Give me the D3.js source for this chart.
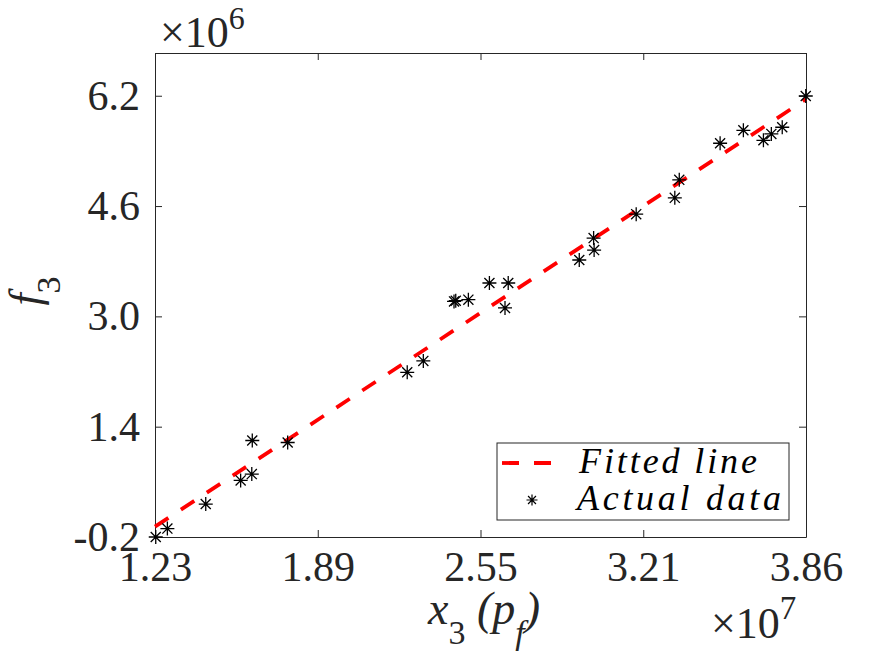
<!DOCTYPE html>
<html>
<head>
<meta charset="utf-8">
<script src="https://cdn.jsdelivr.net/npm/d3@7"></script>
<style>
  body { margin: 0; background: #fff; }
  svg { display: block; }
</style>
</head>
<body>
<div id="chart"></div>
<script>
// Measured data (x in units of 1e7, y in units of 1e6)
const xData = [1.233, 1.280, 1.435, 1.576, 1.621, 1.623, 1.766, 2.249, 2.314,
  2.438, 2.445, 2.496, 2.581, 2.644, 2.657, 2.944, 3.002, 3.004, 3.174,
  3.330, 3.348, 3.513, 3.607, 3.688, 3.720, 3.764, 3.859];
const yData = [-0.200, -0.078, 0.278, 0.621, 0.712, 1.200, 1.171, 2.189, 2.354,
  3.217, 3.227, 3.242, 3.484, 3.122, 3.484, 3.818, 4.135, 3.961, 4.483,
  4.719, 4.980, 5.511, 5.699, 5.554, 5.646, 5.743, 6.196];

// Fitted line end points
const fitX = [1.23, 3.86];
const fitY = [-0.05, 6.15];

// Ticks
const xTicks = [1.23, 1.8875, 2.545, 3.2025, 3.86];
const xTickLabels = ["1.23", "1.89", "2.55", "3.21", "3.86"];
const yTicks = [-0.2, 1.4, 3.0, 4.6, 6.2];
const yTickLabels = ["-0.2", "1.4", "3.0", "4.6", "6.2"];

const xDomain = [1.23, 3.86];
const yDomain = [-0.2, 6.82];

const WIDTH = 891;
const HEIGHT = 656;
const LEFT = 155, RIGHT = 806, TOP = 53, BOTTOM = 537;
const INK = "#262626";
const FONT = "'Liberation Serif', 'Times New Roman', serif";

const svg = d3.select("#chart")
  .append("svg")
  .attr("width", WIDTH)
  .attr("height", HEIGHT);

const xScale = d3.scaleLinear().domain(xDomain).range([LEFT, RIGHT]);
const yScale = d3.scaleLinear().domain(yDomain).range([BOTTOM, TOP]);

// Asterisk marker like MATLAB '*'
function asterisk(r) {
  const a = r * 0.72;
  return `M0,${-r}V${r}M${-r},0H${r}M${-a},${-a}L${a},${a}M${-a},${a}L${a},${-a}`;
}

// Axes (ticks inward on all four sides)
function styleAxis(g) {
  g.selectAll("path.domain").attr("stroke", INK).attr("stroke-width", 1);
  g.selectAll(".tick line").attr("stroke", INK).attr("stroke-width", 1);
  g.selectAll(".tick text")
    .attr("fill", INK)
    .style("font-family", FONT)
    .style("font-size", "42px");
}

svg.append("g")
  .attr("transform", `translate(0,${BOTTOM})`)
  .call(d3.axisBottom(xScale).tickValues(xTicks).tickSize(-7).tickSizeOuter(0)
    .tickPadding(14).tickFormat((d, i) => xTickLabels[i]))
  .call(styleAxis);

svg.append("g")
  .attr("transform", `translate(0,${TOP})`)
  .call(d3.axisTop(xScale).tickValues(xTicks).tickSize(-7).tickSizeOuter(0)
    .tickFormat(""))
  .call(styleAxis);

svg.append("g")
  .attr("transform", `translate(${LEFT},0)`)
  .call(d3.axisLeft(yScale).tickValues(yTicks).tickSize(-7).tickSizeOuter(0)
    .tickPadding(15).tickFormat((d, i) => yTickLabels[i]))
  .call(styleAxis);

svg.append("g")
  .attr("transform", `translate(${RIGHT},0)`)
  .call(d3.axisRight(yScale).tickValues(yTicks).tickSize(-7).tickSizeOuter(0)
    .tickFormat(""))
  .call(styleAxis);

// Fitted line
const line = d3.line()
  .x((d) => xScale(d[0]))
  .y((d) => yScale(d[1]));

svg.append("path")
  .datum(fitX.map((x, i) => [x, fitY[i]]))
  .attr("d", line)
  .attr("fill", "none")
  .attr("stroke", "#ff0000")
  .attr("stroke-width", 3.8)
  .attr("stroke-dasharray", "16,15");

// Actual data
svg.selectAll("path.point")
  .data(xData.map((x, i) => [x, yData[i]]))
  .enter()
  .append("path")
  .attr("class", "point")
  .attr("transform", (d) => `translate(${xScale(d[0])},${yScale(d[1])})`)
  .attr("d", asterisk(7))
  .attr("fill", "none")
  .attr("stroke", "#000")
  .attr("stroke-width", 1.3);

// Exponent labels
const exp6 = svg.append("text")
  .attr("x", 160).attr("y", 47)
  .attr("fill", INK)
  .style("font-family", FONT)
  .style("font-size", "44px");
exp6.append("tspan").text("\u00d710");
exp6.append("tspan").attr("dy", -18).style("font-size", "32px").text("6");

const exp7 = svg.append("text")
  .attr("x", 711).attr("y", 638)
  .attr("fill", INK)
  .style("font-family", FONT)
  .style("font-size", "44px");
exp7.append("tspan").text("\u00d710");
exp7.append("tspan").attr("dy", -19).style("font-size", "33px").text("7");

// Axis labels
const xLabel = svg.append("text")
  .attr("x", 484).attr("y", 624)
  .attr("text-anchor", "middle")
  .attr("fill", INK)
  .style("font-family", FONT)
  .style("font-size", "46px");
xLabel.append("tspan").style("font-style", "italic").text("x");
xLabel.append("tspan").attr("dy", 20).style("font-size", "34px").text("3");
xLabel.append("tspan").attr("dy", -20).style("font-style", "italic").text(" (p");
xLabel.append("tspan").attr("dy", 20).style("font-size", "34px")
  .style("font-style", "italic").text("f");
xLabel.append("tspan").attr("dy", -20).style("font-style", "italic").text(")");

const yLabel = svg.append("text")
  .attr("transform", "translate(40,291) rotate(-90)")
  .attr("text-anchor", "middle")
  .attr("fill", INK)
  .style("font-family", FONT)
  .style("font-size", "44px");
yLabel.append("tspan").style("font-style", "italic").text("f");
yLabel.append("tspan").attr("dy", 20).style("font-size", "34px").text("3");

// Legend
const legend = svg.append("g");
legend.append("rect")
  .attr("x", 497).attr("y", 443)
  .attr("width", 292).attr("height", 77)
  .attr("fill", "#fff")
  .attr("stroke", INK)
  .attr("stroke-width", 1);

legend.append("line")
  .attr("x1", 502).attr("x2", 551)
  .attr("y1", 463).attr("y2", 463)
  .attr("stroke", "#ff0000")
  .attr("stroke-width", 3.8)
  .attr("stroke-dasharray", "17,15");

legend.append("path")
  .attr("transform", "translate(532,500)")
  .attr("d", asterisk(5.5))
  .attr("fill", "none")
  .attr("stroke", "#000")
  .attr("stroke-width", 1.2);

legend.append("text")
  .attr("x", 579).attr("y", 473)
  .attr("textLength", 178)
  .attr("fill", "#000")
  .style("font-family", FONT)
  .style("font-style", "italic")
  .style("font-size", "36px")
  .text("Fitted line");

legend.append("text")
  .attr("x", 577).attr("y", 510)
  .attr("textLength", 204)
  .attr("fill", "#000")
  .style("font-family", FONT)
  .style("font-style", "italic")
  .style("font-size", "36px")
  .text("Actual data");
</script>
</body>
</html>
